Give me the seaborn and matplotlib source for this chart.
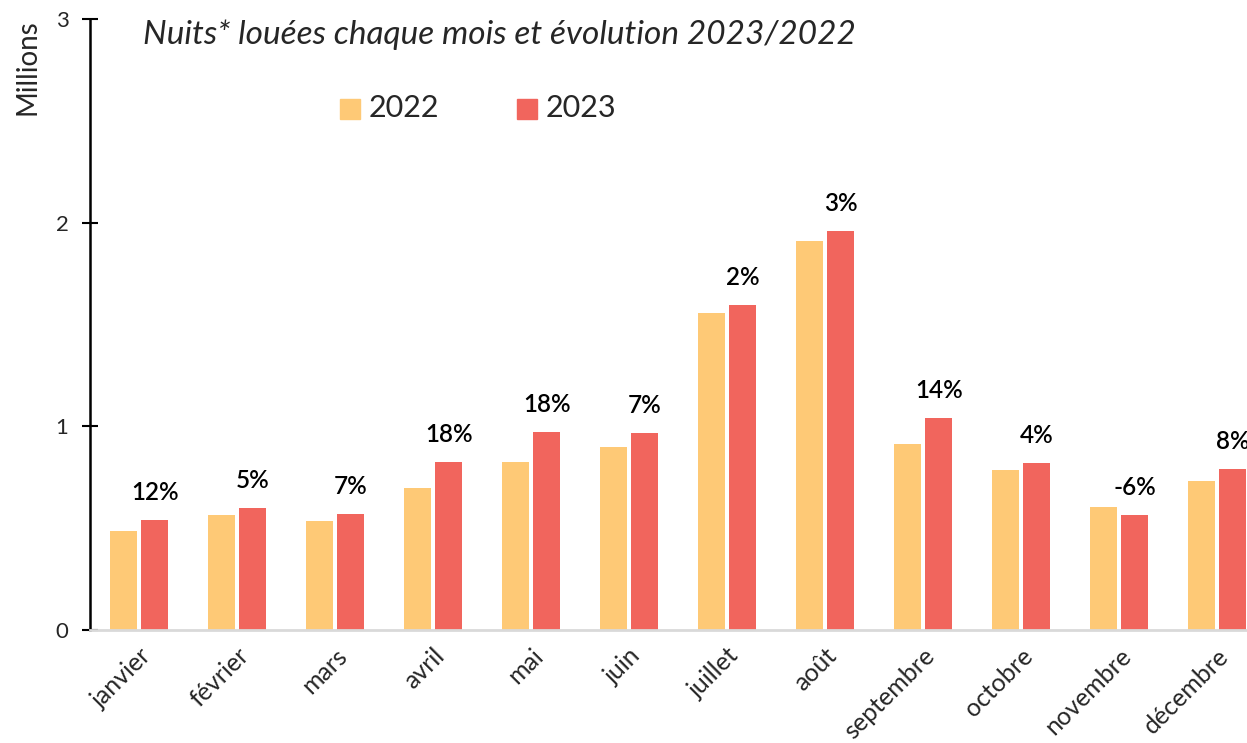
import matplotlib
matplotlib.use('Agg')
import matplotlib.pyplot as plt
import pandas as pd
import seaborn as sns

months = ['janvier', 'février', 'mars', 'avril', 'mai', 'juin', 'juillet',
          'août', 'septembre', 'octobre', 'novembre', 'décembre']
nights_2022 = [0.485, 0.566, 0.533, 0.697, 0.823, 0.900, 1.556, 1.908, 0.913, 0.785, 0.602, 0.734]
nights_2023 = [0.541, 0.599, 0.571, 0.823, 0.972, 0.967, 1.594, 1.958, 1.041, 0.818, 0.566, 0.790]
evolution = ['12%', '5%', '7%', '18%', '18%', '7%', '2%', '3%', '14%', '4%', '-6%', '8%']

sns.set_theme(style='white')
plt.rcParams['font.family'] = ['Lato', 'DejaVu Sans']

data = pd.DataFrame({
  'mois': months * 2,
  'nuits': nights_2022 + nights_2023,
  'annee': ['2022'] * 12 + ['2023'] * 12,
})
palette = {'2022': '#FEC976', '2023': '#F1655D'}

fig = plt.figure(figsize=(12.47, 7.43), dpi=100)
ax = fig.add_axes([90 / 1247, 113 / 743, 1176 / 1247, 611 / 743])

sns.barplot(data=data, x='mois', y='nuits', hue='annee', palette=palette,
            width=0.633, gap=0.1, saturation=1, linewidth=0, ax=ax, legend=False)

for i, (val, label) in enumerate(zip(nights_2023, evolution)):
  ax.text(i + 0.16, val + 0.135, label, ha='center', va='center',
          fontsize=17.5, fontweight='semibold', color='black')

ax.set_ylim(0, 3)
ax.set_xlim(-0.5, 11.5)
ax.set_yticks([0, 1, 2, 3])
ax.tick_params(axis='y', direction='inout', length=11, width=1.5, color='black',
               labelsize=16, pad=10, left=True)
ax.tick_params(axis='x', length=0, labelsize=18, pad=10)
plt.setp(ax.get_xticklabels(), rotation=45, ha='right', rotation_mode='anchor')

for side in ['top', 'right']:
  ax.spines[side].set_visible(False)
ax.spines['left'].set_color('black')
ax.spines['left'].set_linewidth(1.8)
ax.spines['bottom'].set_color('#D9D9D9')
ax.spines['bottom'].set_linewidth(2)

ax.set_xlabel('')
ax.set_ylabel('Millions', fontsize=20)
ax.yaxis.set_label_coords(-0.053, 1.0)
ax.yaxis.label.set_va('center')
ax.yaxis.label.set_ha('right')

fig.text(143 / 1247, 1 - 35 / 743, 'Nuits* louées chaque mois et évolution 2023/2022',
         fontsize=24, style='italic', va='center', ha='left')

# legend drawn as squares + labels
for x, year in [(340, '2022'), (517, '2023')]:
  fig.patches.append(plt.Rectangle((x / 1247, 1 - 119 / 743), 20 / 1247, 20 / 743,
                                   transform=fig.transFigure, color=palette[year]))
  fig.text((x + 29) / 1247, 1 - 108 / 743, year, fontsize=22, va='center', ha='left')

fig.savefig('out.png', dpi=100)
